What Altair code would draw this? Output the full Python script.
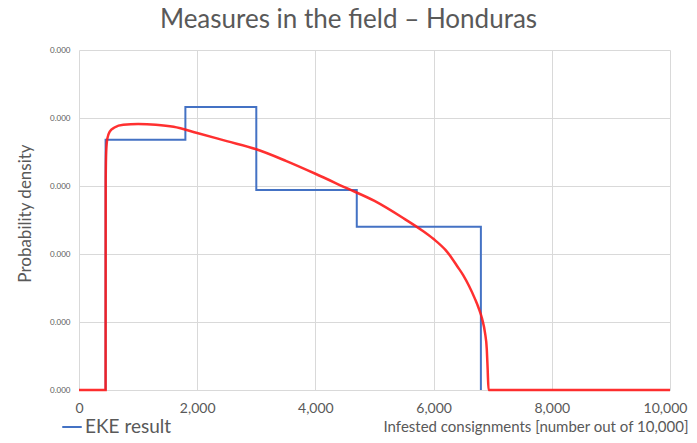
import altair as alt
import pandas as pd

# EKE result (histogram steps)
hist_x = [450, 450, 1800, 1800, 3000, 3000, 4700, 4700, 6800, 6800]
hist_y = [0, 1.84e-4, 1.84e-4, 2.08e-4, 2.08e-4, 1.47e-4, 1.47e-4, 1.20e-4, 1.20e-4, 0]

# fitted distribution (red curve)
fit_x = [0, 450, 452, 460, 480, 520, 600, 750, 1000, 1300, 1600, 2000, 2500, 3000,
         3500, 4000, 4500, 5000, 5500, 5800, 6000, 6200, 6300, 6400, 6500, 6600, 6700,
         6760, 6820, 6870, 6900, 6915, 6930, 10000]
fit_y = [0, 0, 1.55e-4, 1.75e-4, 1.85e-4, 1.90e-4, 1.93e-4, 1.95e-4, 1.955e-4,
         1.95e-4, 1.935e-4, 1.89e-4, 1.83e-4, 1.77e-4, 1.685e-4, 1.59e-4, 1.49e-4,
         1.39e-4, 1.26e-4, 1.175e-4, 1.11e-4, 1.03e-4, 0.975e-4, 0.91e-4, 0.845e-4,
         0.765e-4, 0.67e-4, 0.605e-4, 0.525e-4, 0.42e-4, 0.30e-4, 0.15e-4, 0, 0]

x_ticks = [0, 2000, 4000, 6000, 8000, 10000]
y_ticks = [0, 0.00005, 0.0001, 0.00015, 0.0002, 0.00025]

hist = pd.DataFrame({"x": hist_x, "y": hist_y, "i": list(range(len(hist_x))),
                     "series": ["EKE result"] * len(hist_x)})
fit = pd.DataFrame({"x": fit_x, "y": fit_y, "i": list(range(len(fit_x)))})

FONT = "Lato"
GREY = "#595959"

xscale = alt.Scale(domain=[0, 10000], nice=False, zero=False)
yscale = alt.Scale(domain=[0, 0.00025], nice=False)

xaxis = alt.Axis(values=x_ticks, format=",d", title="Infested consignments [number out of 10,000]",
                 labelFont=FONT, labelFontSize=14, labelColor=GREY, labelPadding=11,
                 labelOffset={"condition": {"test": "datum.value == 10000", "value": -5}, "value": 0},
                 titleFont=FONT, titleFontSize=15, titleColor=GREY, titleFontWeight="normal",
                 titleX=609, titleY=41, titleAlign="right", titleBaseline="alphabetic",
                 domain=False, ticks=False, grid=True, gridColor="#D9D9D9", labelFlush=False)
yaxis = alt.Axis(values=y_ticks, format=".3f", title="Probability density",
                 labelFont=FONT, labelFontSize=8, labelColor=GREY, labelPadding=9,
                 titleFont=FONT, titleFontSize=17, titleColor=GREY, titleFontWeight="normal",
                 titleX=-54, titleY=163, titleAlign="center", titleBaseline="middle",
                 domain=False, ticks=False, grid=True, gridColor="#D9D9D9")

red = alt.Chart(fit).mark_line(color="#FF1A1A", strokeWidth=2.5, opacity=0.9,
                               interpolate="monotone").encode(
    x=alt.X("x:Q", scale=xscale, axis=xaxis),
    y=alt.Y("y:Q", scale=yscale, axis=yaxis),
    order="i:Q",
)

blue = alt.Chart(hist).mark_line(strokeWidth=2).encode(
    x=alt.X("x:Q", scale=xscale, axis=xaxis),
    y=alt.Y("y:Q", scale=yscale, axis=yaxis),
    order="i:Q",
    color=alt.Color("series:N", scale=alt.Scale(domain=["EKE result"], range=["#4472C4"]),
                    legend=alt.Legend(title=None, orient="none", legendX=-18, legendY=366,
                                      symbolType="stroke", symbolSize=380, symbolStrokeWidth=2,
                                      labelFont=FONT, labelFontSize=19, labelColor=GREY,
                                      labelOffset=2)),
)

chart = alt.layer(blue, red).properties(
    width=591, height=340,
    autosize=alt.AutoSizeParams(type="none"),
    padding={"left": 71, "top": 42, "right": 19, "bottom": 45},
    title=alt.TitleParams("Measures in the field – Honduras", font=FONT, fontSize=26,
                          color=GREY, fontWeight="normal", anchor="middle", dx=-26, offset=13),
).configure_view(stroke=None)

chart.save("out.html", embed_options={"renderer": "svg", "actions": False})
